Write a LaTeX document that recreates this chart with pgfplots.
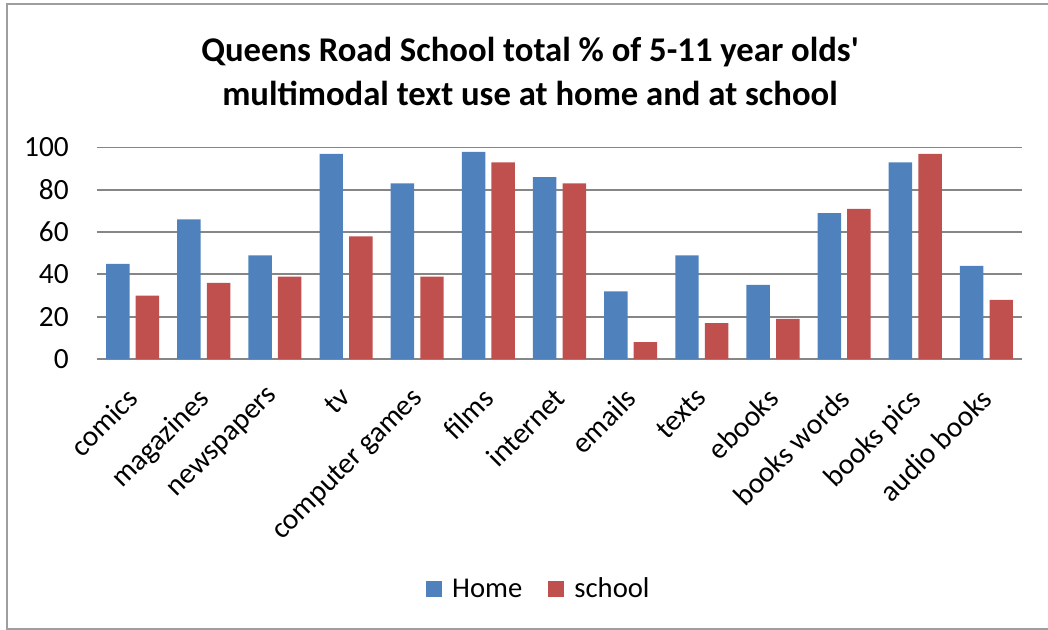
\documentclass[border=0pt]{standalone}
\usepackage{fontspec}
\setmainfont{Carlito}
\usepackage{pgfplots}
\pgfplotsset{compat=1.18}

\definecolor{homeblue}{RGB}{79,129,189}
\definecolor{schoolred}{RGB}{192,80,77}
\definecolor{gridgray}{RGB}{134,134,134}

\begin{document}
\begin{tikzpicture}[x=0.75pt,y=0.75pt]
% page = 1048 x 630 px, axis box lower left at the origin
\useasboundingbox (-97,-271) rectangle (951,359);
\draw[gridgray!80, line width=1pt] (-90,-270) rectangle (1000,355);
\node[font=\bfseries\fontsize{26}{33}\selectfont, align=center] at (433,288)
  {Queens Road School total \% of 5-11 year olds\textquotesingle\\multimodal text use at home and at school};

\begin{axis}[
  at={(0,0)}, anchor=south west,
  scale only axis,
  width=693.75pt, height=158.6pt,
  ybar=4.6pt, bar width=17.6pt,
  xmin=-0.5, xmax=12.5,
  ymin=0, ymax=100,
  ytick={0,20,...,100},
  xtick={0,...,12},
  xticklabels={comics,magazines,newspapers,tv,computer games,films,internet,emails,texts,ebooks,books words,books pics,audio books},
  axis line style={draw=none},
  tick style={draw=none},
  ymajorgrids=true,
  grid style={gridgray, line width=1.4pt},
  /pgf/number format/assume math mode=true,
  ticklabel style={font=\fontsize{22}{26}\selectfont},
  yticklabel style={anchor=east, inner sep=0pt, xshift=-21pt},
  xticklabel style={rotate=45, anchor=north east, inner sep=0pt, xshift=-15.1pt, yshift=-7.6pt},
  legend style={at={(0.477,-1.0875)}, anchor=center, draw=none, fill=none,
    legend columns=2, font=\fontsize{21.5}{26}\selectfont,
    /tikz/every odd column/.append style={column sep=0pt},
    /tikz/every even column/.append style={column sep=18pt},
    nodes={inner sep=1pt}},
  legend image code/.code={\fill[#1] (0pt,-6pt) rectangle (12pt,6pt); \path (19pt,0pt);},
]
\addplot[fill=homeblue, draw=none] coordinates {
  (0,45) (1,66) (2,49) (3,97) (4,83) (5,98) (6,86)
  (7,32) (8,49) (9,35) (10,69) (11,93) (12,44)};
\addlegendentry{Home}
\addplot[fill=schoolred, draw=none] coordinates {
  (0,30) (1,36) (2,39) (3,58) (4,39) (5,93) (6,83)
  (7,8) (8,17) (9,19) (10,71) (11,97) (12,28)};
\addlegendentry{school}
\end{axis}
\end{tikzpicture}
\end{document}
